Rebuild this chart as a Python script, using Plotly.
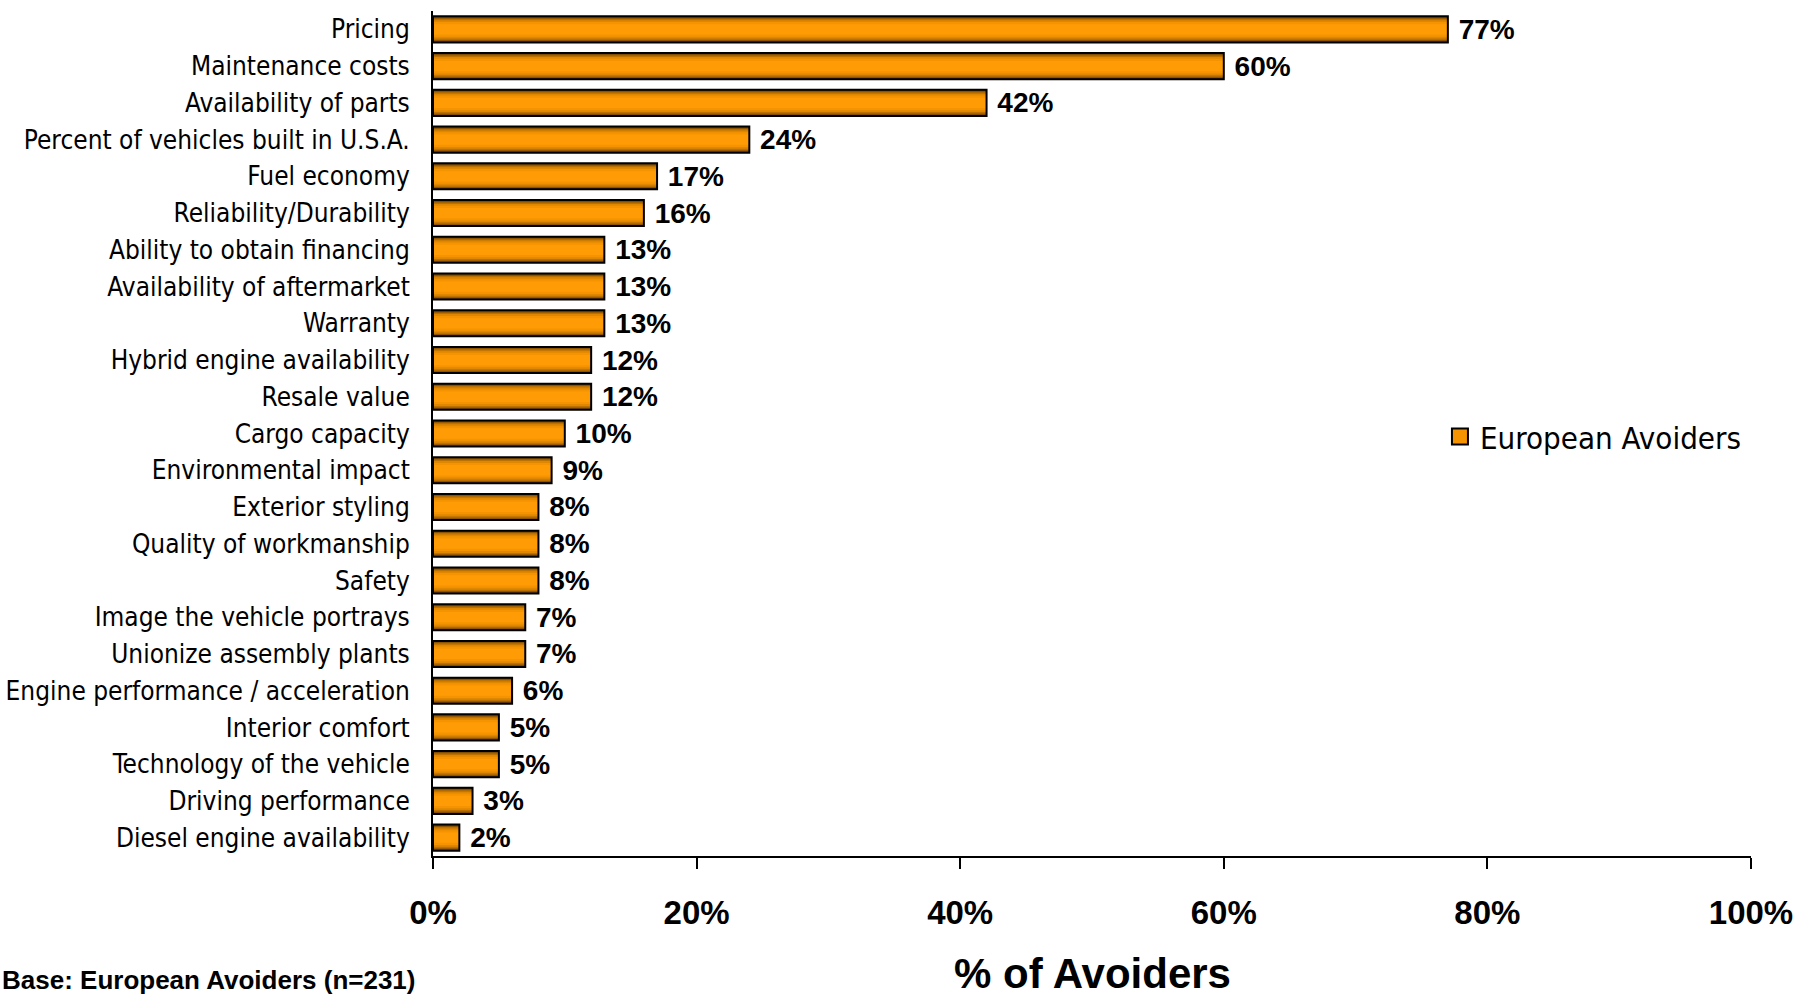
import plotly.graph_objects as go

# Reasons European-brand avoiders give, share of respondents (%)
categories = [
    "Pricing",
    "Maintenance costs",
    "Availability of parts",
    "Percent of vehicles built in U.S.A.",
    "Fuel economy",
    "Reliability/Durability",
    "Ability to obtain financing",
    "Availability of aftermarket",
    "Warranty",
    "Hybrid engine availability",
    "Resale value",
    "Cargo capacity",
    "Environmental impact",
    "Exterior styling",
    "Quality of workmanship",
    "Safety",
    "Image the vehicle portrays",
    "Unionize assembly plants",
    "Engine performance / acceleration",
    "Interior comfort",
    "Technology of the vehicle",
    "Driving performance",
    "Diesel engine availability",
]
values = [77, 60, 42, 24, 17, 16, 13, 13, 13, 12, 12, 10, 9, 8, 8, 8, 7, 7, 6, 5, 5, 3, 2]

series_name = "European Avoiders"
x_tick_values = [0, 20, 40, 60, 80, 100]
x_tick_labels = ["0%", "20%", "40%", "60%", "80%", "100%"]

value_labels = [f" {v}%" for v in values]

LABEL_FONT = "DejaVu Sans Condensed, Liberation Sans Narrow, Roboto Condensed, Arial Narrow, sans-serif"
BOLD_FONT = "Liberation Sans, Arial, Helvetica, sans-serif"
BAR_W = 0.71

fig = go.Figure()

# Shaded bar body: stacked bands of decreasing thickness give a tube-like gradient
bands = [
    (BAR_W, "#633800"),
    (0.65, "#8f5400"),
    (0.58, "#bb7000"),
    (0.50, "#e08700"),
    (0.40, "#f59400"),
    (0.28, "#ff9c05"),
]
for w, col in bands:
    fig.add_trace(go.Bar(
        x=values, y=categories, orientation="h", width=w,
        marker=dict(color=col, line=dict(width=0)),
        showlegend=False, hoverinfo="skip",
    ))

# Outline and value labels on top
fig.add_trace(go.Bar(
    x=values, y=categories, orientation="h", width=BAR_W,
    marker=dict(color="rgba(0,0,0,0)", line=dict(color="#000000", width=2)),
    text=value_labels, textposition="outside", cliponaxis=False,
    constraintext="none",
    textfont=dict(family=BOLD_FONT, size=28, color="#000000", weight="bold"),
    showlegend=False, name=series_name,
))

# Legend entry for the series
fig.add_trace(go.Scatter(
    x=[None], y=[None], mode="markers", name=series_name,
    marker=dict(symbol="square", size=16, color="#f59300",
                line=dict(color="#000000", width=2)),
))

fig.update_layout(
    width=1800, height=997,
    margin=dict(l=433, r=49, t=11, b=141),
    paper_bgcolor="#ffffff", plot_bgcolor="#ffffff",
    barmode="overlay",
    showlegend=True,
    legend=dict(
        x=0.764, y=0.496, xanchor="left", yanchor="middle",
        font=dict(family=LABEL_FONT, size=31, color="#000000"),
        bgcolor="rgba(0,0,0,0)", itemsizing="trace",
    ),
    xaxis=dict(
        range=[0, 100], tickvals=x_tick_values, ticktext=x_tick_labels,
        showgrid=False, zeroline=False,
        showline=True, linecolor="#000000", linewidth=2,
        ticks="outside", ticklen=11, tickwidth=2, tickcolor="#000000",
        ticklabelstandoff=15,
        tickfont=dict(family=BOLD_FONT, size=33, color="#000000", weight="bold"),
        automargin=False, fixedrange=True,
    ),
    yaxis=dict(
        categoryorder="array", categoryarray=categories,
        autorange="reversed",
        showgrid=False, zeroline=False,
        showline=True, linecolor="#000000", linewidth=2,
        ticks="", ticklabelstandoff=16,
        tickfont=dict(family=LABEL_FONT, size=26, color="#000000"),
        automargin=False, fixedrange=True,
    ),
    annotations=[
        dict(text="% of Avoiders", xref="paper", yref="paper",
             x=0.5, y=-0.169, xanchor="center", yanchor="bottom",
             showarrow=False,
             font=dict(family=BOLD_FONT, size=42, color="#000000", weight="bold")),
        dict(text="Base: European Avoiders (n=231)", xref="paper", yref="paper",
             x=-0.3285, y=-0.1669, xanchor="left", yanchor="bottom",
             showarrow=False,
             font=dict(family=BOLD_FONT, size=26, color="#000000", weight="bold")),
    ],
)

fig.write_html("out.html")
